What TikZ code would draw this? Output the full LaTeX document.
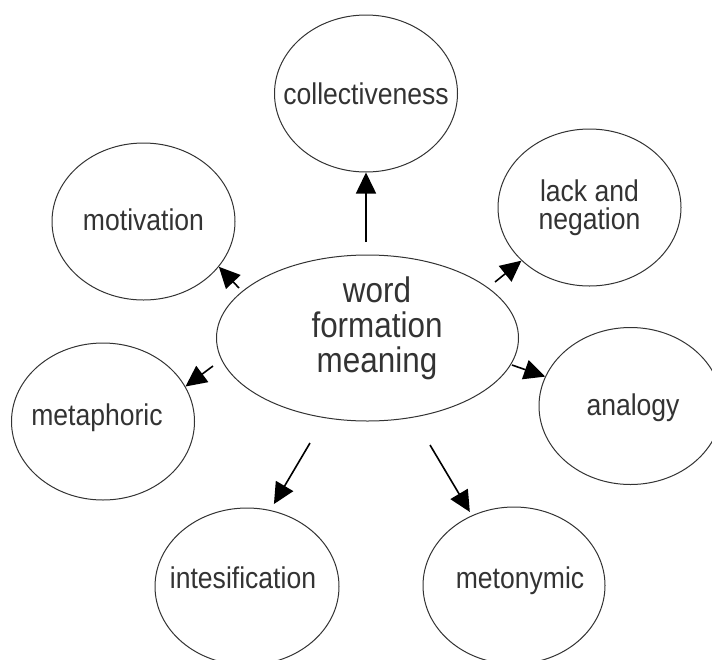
\documentclass[tikz,border=0pt]{standalone}
\usepackage{fontspec}
\setmainfont{Liberation Sans}[FakeStretch=0.885]
\usetikzlibrary{shapes.geometric,arrows.meta}

\begin{document}
\begin{tikzpicture}[x=1pt,y=-1pt]
    \tikzstyle{bubble}=[ellipse, draw=black!80, line width=1pt, inner sep=0pt, minimum width=183pt, minimum height=157pt]
    \tikzstyle{txt}=[text=black!80, align=center, font=\fontsize{30}{28}\selectfont]
    \tikzstyle{arr}=[-{Triangle[length=21pt,width=20pt]}, line width=1.6pt]

    \clip (0,0) rectangle (712,659);
    \fill[white] (0,0) rectangle (712,659);

    % centre
    \node[bubble, minimum width=302pt, minimum height=166pt,
          label={[txt, font=\fontsize{35.5}{35}\selectfont, xshift=9.5pt, yshift=10pt]center:word\\formation\\meaning}] (wfm) at (367.5,338) {};

    % around it
    \node[bubble, label={[txt]center:collectiveness}] (coll) at (366,93.5) {};
    \node[bubble, label={[txt]center:lack and\\negation}] (lack) at (589.5,207.5) {};
    \node[bubble, label={[txt, yshift=2pt]center:motivation}] (mot) at (143.5,221.5) {};
    \node[bubble, label={[txt, xshift=-6pt, yshift=3.5pt]center:metaphoric}] (meta) at (103,421.5) {};
    \node[bubble, label={[txt, xshift=2.5pt, yshift=-2pt]center:analogy}] (ana) at (630.5,406) {};
    \node[bubble, minimum width=184pt, label={[txt, xshift=-4pt, yshift=9pt]center:intesification}] (int) at (247,586.5) {};
    \node[bubble, minimum width=182pt, label={[txt, xshift=6pt, yshift=4.5pt]center:metonymic}] (meto) at (514,585.5) {};

    \coordinate (tcoll) at (366,242);
    \coordinate (tlack) at (495,282);
    \coordinate (tmot) at (239,288);
    \coordinate (tmeta) at (213,366);
    \coordinate (tana) at (512,365);
    \coordinate (tint) at (310,443);
    \coordinate (tmeto) at (430,445);

    \draw[arr] (tcoll) -- (coll.south);
    \draw[arr] (tlack) -- (lack.218);
    \draw[arr] (tmot) -- (mot.329);
    \draw[arr] (tmeta) -- (meta.23);
    \draw[arr] (tana) -- (ana.161);
    \draw[arr, shorten >=7pt] (tint) -- (int.73);
    \draw[arr, shorten >=4pt] (tmeto) -- (meto.121);
\end{tikzpicture}
\end{document}
